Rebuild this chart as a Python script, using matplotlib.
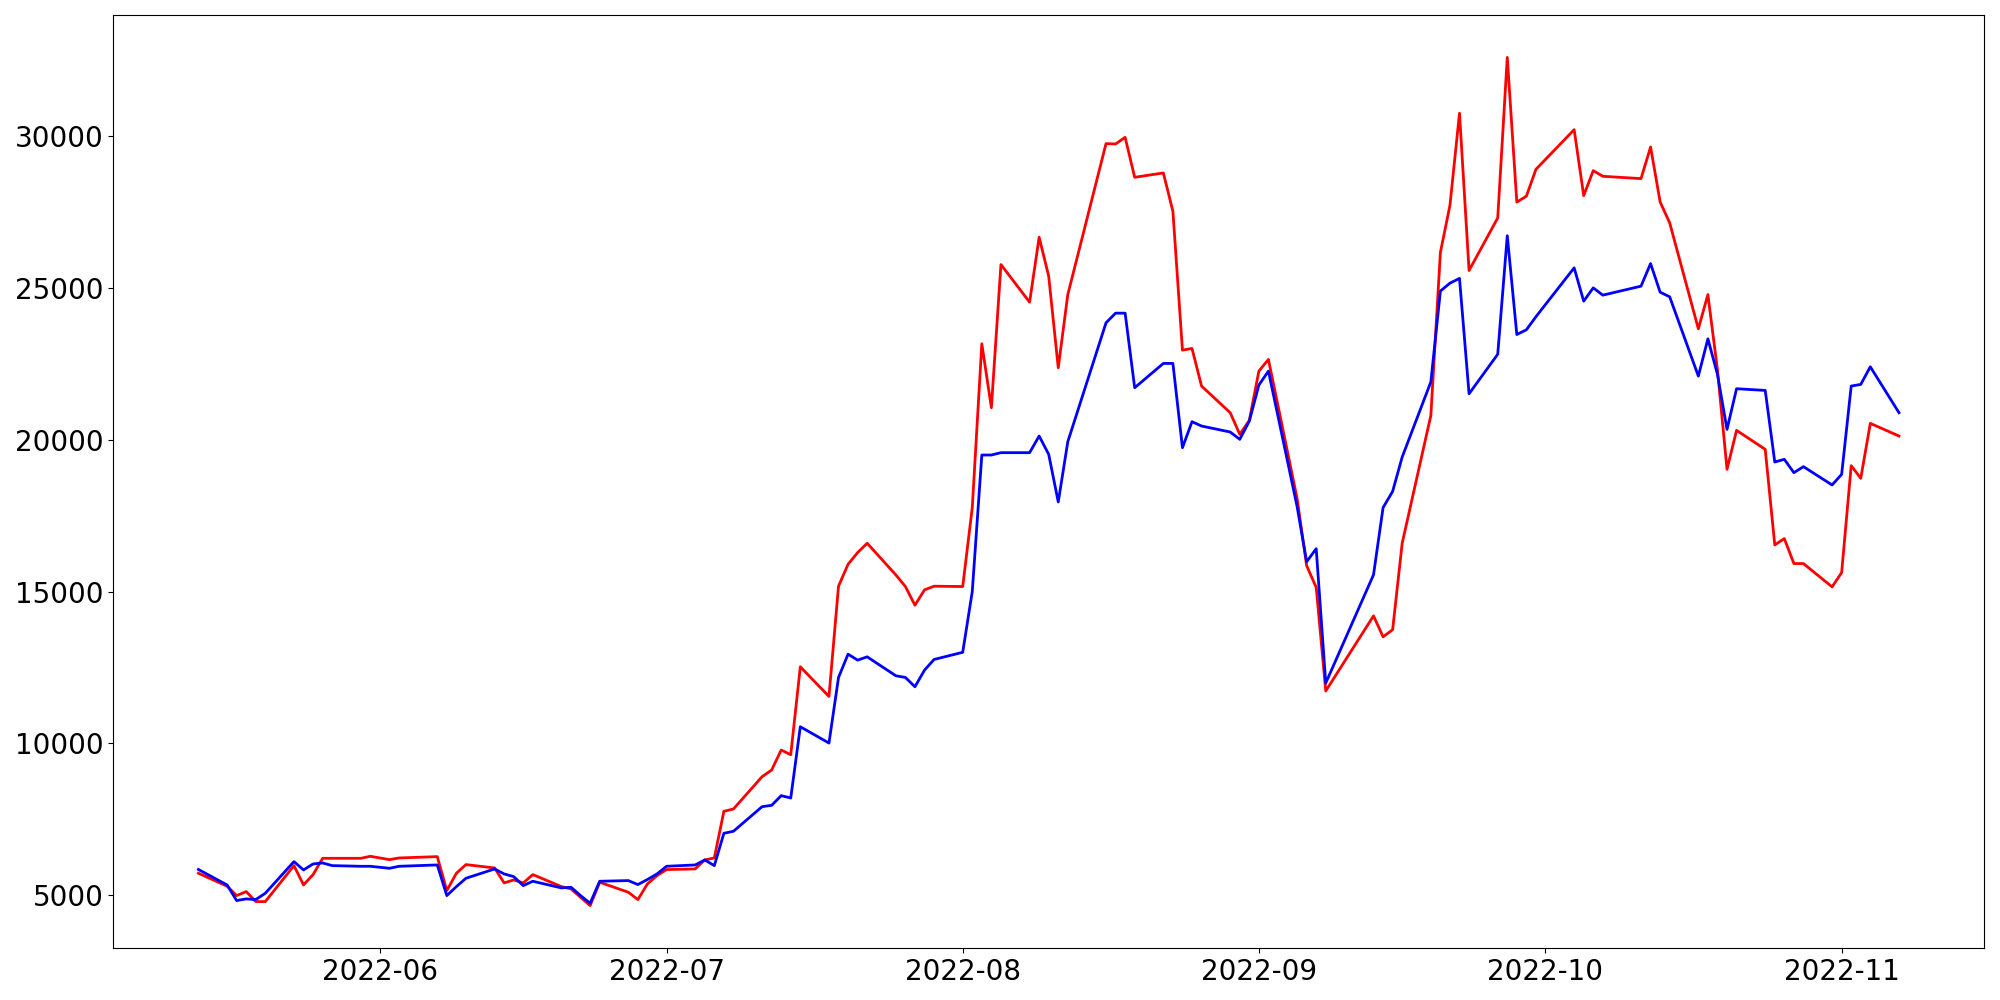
import pandas as pd
import matplotlib
matplotlib.use("Agg")
import matplotlib.pyplot as plt

# trading days (weekdays minus market holidays)
holidays = ["2022-06-01", "2022-06-06", "2022-08-15", "2022-09-09",
            "2022-09-12", "2022-10-03", "2022-10-10"]
dates = pd.bdate_range("2022-05-13", "2022-11-07", freq="C", holidays=holidays)

red = [
    5725, 5300, 4990, 5122, 4793, 4793, 5977, 5341, 5681, 6218, 6218, 6218, 6284,
    6174, 6229, 6273, 5155, 5725, 6010, 5900, 5407, 5506, 5407, 5681, 5286, 5210,
    4935, 4661, 5429, 5100, 4859, 5375, 5649,
    5846, 5868, 6164, 6230, 7765, 7841, 8905, 9124, 9782, 9628, 12523, 11547,
    15176, 15899, 16283, 16590, 15548, 15165, 14551, 15055, 15176,
    15165, 17763, 23157, 21052, 25766, 24527, 26665, 25382, 22368, 24779, 29746,
    29735, 29954, 28638, 28781, 27520, 22948, 23003, 21765, 20888, 20175, 20636,
    22258, 22642, 18063, 15851, 15136, 11727, 14199, 13509, 13744, 16593, 20795,
    26168, 27716, 30748, 25570, 27300, 32585, 27820, 28016, 28900,
    30206, 28036, 28858, 28671, 28595, 29636, 27827, 27137, 23650, 24779, 22300,
    19024, 20307, 19682, 16535, 16743, 15921, 15921, 15154,
    15625, 19144, 18728, 20537, 20120,
]

blue = [
    5850, 5340, 4826, 4881, 4859, 5067, 6109, 5835, 6032, 6065, 5977, 5955, 5955,
    5889, 5955, 5999, 4990, 5286, 5560, 5867, 5703, 5615, 5319, 5462, 5243, 5264,
    4990, 4738, 5462, 5484, 5353, 5520, 5703,
    5955, 5999, 6164, 5977, 7041, 7107, 7918, 7962, 8280, 8203, 10549, 10012,
    12172, 12939, 12742, 12851, 12227, 12172, 11865, 12413, 12764,
    13000, 15000, 19495, 19495, 19572, 19572, 20120, 19517, 17949, 19934, 23848,
    24165, 24165, 21710, 22510, 22510, 19736, 20592, 20449, 20252, 20011, 20614,
    21798, 22258, 17800, 15981, 16411, 11987, 15552, 17764, 18297, 19429, 21901,
    24893, 25153, 25310, 21511, 22812, 26715, 23462, 23618, 24048,
    25657, 24560, 24999, 24758, 25054, 25799, 24856, 24703, 22093, 23321, 22150,
    20339, 21677, 21622, 19265, 19353, 18914, 19112, 18509,
    18859, 21765, 21819, 22400, 20888,
]

fig, ax = plt.subplots(figsize=(20, 10), dpi=100)
ax.plot(dates, red, color="red", linewidth=2)
ax.plot(dates, blue, color="blue", linewidth=2)
ax.tick_params(labelsize=20)

plt.subplots_adjust(left=0.0567, right=0.992, top=0.985, bottom=0.052)
plt.savefig("out.png")
